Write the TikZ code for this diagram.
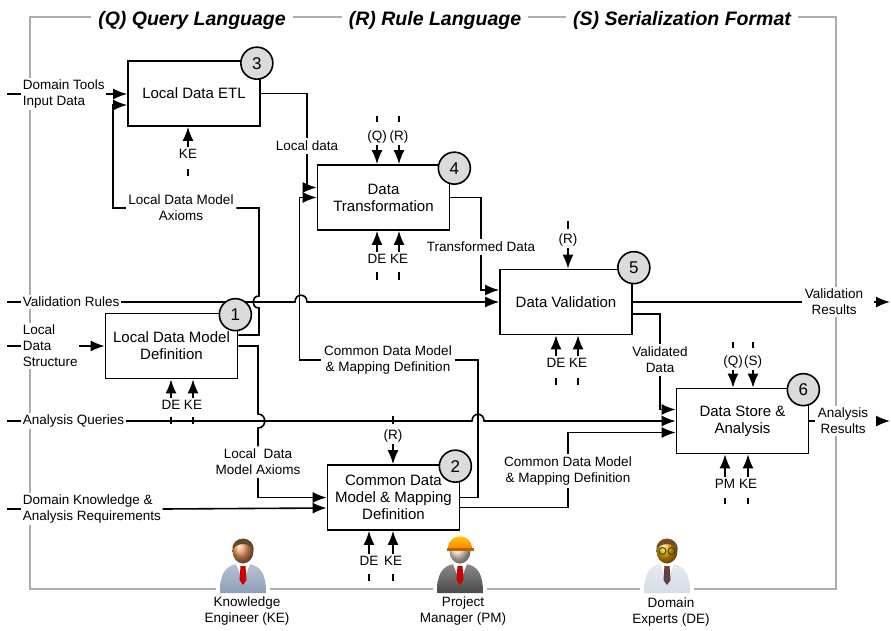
\documentclass[tikz,border=0pt]{standalone}
\usepackage{fontspec}
\setmainfont{Liberation Sans}
\usepackage{tikz}
\usetikzlibrary{arrows.meta, positioning, shapes}

\definecolor{framegray}{gray}{0.68}
\definecolor{stepgray}{gray}{0.86}
\definecolor{kesuit}{HTML}{8DA0B8}
\definecolor{pmsuit}{HTML}{4A4A4A}
\definecolor{decoat}{HTML}{D5DDE6}
\definecolor{skin}{HTML}{E8945A}

% person icon: #1 position (feet), #2 suit, #3 face, #4 hair / hat / extras
\newcommand{\drawperson}[4]{%
  \begin{scope}[shift={#1}, line width=0.6pt]
    \fill  [white] (-27,4) rectangle (27,-60);
    \shade [top color=#2!65, bottom color=#2] (-23,0) .. controls (-23,-19) and (-18,-27) .. (-6,-29)
           -- (6,-29) .. controls (18,-27) and (23,-19) .. (23,0) -- cycle;
    \fill  [white] (-7,-29) -- (7,-29) -- (0,-11) -- cycle;
    \fill  [red!80!black] (-2.5,-27) -- (2.5,-27) -- (3.5,-13) -- (0,-8) -- (-3.5,-13) -- cycle;
    \shade [ball color=#3] (0,-42) ellipse [x radius=10.5, y radius=12.5];
    #4
  \end{scope}}

\begin{document}
\begin{tikzpicture}[x=1pt, y=-1pt, line width=1.6pt,
  >={Latex[length=14pt, width=11pt]},
  activity/.style={draw, line width=1.7pt, minimum width=132pt, minimum height=65pt, inner sep=0pt,
                   align=center, font=\fontsize{15}{17}\selectfont},
  stepno/.style={draw, circle, fill=stepgray, minimum size=32pt, inner sep=0pt,
                 font=\fontsize{17}{17}\selectfont},
  lbl/.style={fill=white, inner sep=2pt, align=center, font=\fontsize{13.5}{16}\selectfont},
  inlbl/.style={lbl, anchor=west, align=left, inner xsep=1pt},
  role/.style={fill=white, inner sep=1pt, text height=9.5pt, text depth=2.5pt,
               font=\fontsize{13.5}{16}\selectfont},
  grayframe/.style={draw=framegray, line width=1.3pt},
  heading/.style={fill=white, inner xsep=7pt, font=\fontsize{19.5}{22}\selectfont\bfseries\itshape},
]

\useasboundingbox (0,0) rectangle (891,630);

\draw [grayframe] (30,17) rectangle (836,589);

\node [heading] (qlang) at (192,20) {(Q) Query Language};
\node [heading] (rlang) at (435,20) {(R) Rule Language};
\node [heading] (slang) at (682,20) {(S) Serialization Format};

% people
\drawperson{(243,593)}{kesuit}{skin}{%
  \fill [brown!55!black] (-10.5,-43) .. controls (-12,-58) and (12,-58) .. (10.5,-43)
        .. controls (7,-51) and (-7,-51) .. cycle;}
\drawperson{(460,593)}{pmsuit}{white!85!orange}{%
  \shade [top color=yellow!75!orange, bottom color=orange] (-12,-44) .. controls (-12,-61) and (12,-61) .. (12,-44) -- cycle;
  \fill  [orange!75!black] (-13.5,-45) rectangle (13.5,-42);}
\drawperson{(667,593)}{decoat}{orange!75!yellow}{%
  \fill [black!70] (-2,-27) -- (2,-27) -- (3,-13) -- (0,-9) -- (-3,-13) -- cycle;
  \fill [brown!60!black] (-10.5,-43) .. controls (-12,-58) and (12,-58) .. (10.5,-43)
        .. controls (7,-51) and (-7,-51) .. cycle;
  \draw [green!35!black, line width=0.9pt] (-4.5,-42) circle (3.5) (4.5,-42) circle (3.5);}

\node [lbl] (ke) at (247,611) {Knowledge\\Engineer (KE)};
\node [lbl] (pm) at (463,611) {Project\\Manager (PM)};
\node [lbl] (de) at (671,612) {Domain\\Experts (DE)};

% activities
\node [activity] (ldm) at (171.5,346)   {Local Data Model\\Definition};
\node [activity] (cdm) at (393.5,497.5) {Common Data\\Model \& Mapping\\Definition};
\node [activity] (etl) at (194,93.5)    {Local Data ETL};
\node [activity] (trf) at (383.5,197.5) {Data\\Transformation};
\node [activity] (val) at (566,302)     {Data Validation};
\node [activity] (dsa) at (742.5,421)   {Data Store \&\\Analysis};

% inputs from the left
\node [inlbl] (dtin) at (21,94)  {Domain Tools\\Input Data};
\node [inlbl] (vrul) at (21,302) {Validation Rules};
\node [inlbl] (lds)  at (21,346) {Local\\Data\\Structure};
\node [inlbl] (aq)   at (21,421) {Analysis Queries};
\node [inlbl] (dkar) at (21,509) {Domain Knowledge \&\\Analysis Requirements};

% flow labels
\node [lbl] (ldata) at (307,146) {Local data};
\node [lbl] (ldmax) at (181,208) {Local Data Model\\Axioms};
\node [lbl] (lmax)  at (258,462) {Local~ Data\\Model Axioms};
\node [lbl] (cmfb)  at (388,360) {Common Data Model\\\& Mapping Definition};
\node [lbl] (cmfw)  at (568,471) {Common Data Model\\\& Mapping Definition};
\node [lbl] (tdat)  at (481,247) {Transformed Data};
\node [lbl] (vdat)  at (660,360) {Validated\\Data};
\node [lbl] (vres)  at (834,302) {Validation\\Results};
\node [lbl] (ares)  at (843,421) {Analysis\\Results};

\coordinate (vout) at (890,302);
\coordinate (aout) at (890,421);

\draw (dtin.west) -- ++(-14,0);
\draw (vrul.west) -- ++(-14,0);
\draw (lds.west)  -- ++(-14,0);
\draw (aq.west)   -- ++(-14,0);
\draw (dkar.west) -- ++(-14,0);

\draw [->] (dtin.east) -- (dtin.east -| etl.west);
\draw [->] (lds.east)  -- (ldm.west);
\draw [->] (dkar.east) -- ([yshift=-10.5pt]cdm.west);
\draw [->] (vrul.east) -- (295,302) .. controls (295,293) and (307,293) .. (307,302) -- (val.west);
\draw [->] (aq.east)   -- (472,421) .. controls (472,412) and (484,412) .. (484,421) -- (dsa.west);

\draw      (etl.east) -| (ldata.north);
\draw [->] (ldata.south) |- ([yshift=10pt]trf.west);

\draw      ([yshift=11pt]ldm.east) -- (259,335) -- (259,308) .. controls (251,308) and (251,296) .. (259,296)
           -- (259,208) -- (ldmax.east);
\draw [->] (ldmax.west) -| (113,105) -- ([yshift=-11.5pt]etl.west);

\draw      (ldm.east) -- (258,346) -- (258,414) .. controls (267,414) and (267,428) .. (258,428) -- (lmax.north);
\draw [->] (lmax.south) |- (cdm.west);

\draw      (cdm.east) -- (478,497.5) |- (cmfb.east);
\draw [->] (cmfb.west) -| ([xshift=-17pt]trf.west) -- (trf.west);

\draw      ([yshift=-10pt]cdm.east) -| (cmfw.south);
\draw [->] (cmfw.north) |- ([yshift=-11.5pt]dsa.west);

\draw      (trf.east) -| (tdat.north);
\draw [->] (tdat.south) |- ([yshift=12pt]val.west);

\draw      ([yshift=-12pt]val.east) -| (vdat.north);
\draw [->] (vdat.south) |- ([yshift=11.5pt]dsa.west);

\draw      (val.east) -- (vres.west);
\draw [->] ([xshift=8pt]vres.east) -- (vout);
\draw      (dsa.east) -- (ares.west);
\draw [->] ([xshift=8pt]ares.east) -- (aout);

% controls and mechanisms
\node [role] (ke3) at (188,155) {KE};
\draw [->] (ke3.north) -- (ke3.north |- etl.south);
\draw (ke3.south) ++(0,6) -- ++(0,7);

\node [role] (de1) at (171,406) {DE};
\node [role] (ke1) at (193,406) {KE};
\draw [->] (de1.north) -- (de1.north |- ldm.south);
\draw [->] (ke1.north) -- (ke1.north |- ldm.south);
\draw (de1.south) ++(0,3) -- ++(0,7);
\draw (ke1.south) ++(0,3) -- ++(0,7);

\node [role] (q4) at (377,137) {(Q)};
\node [role] (r4) at (399,137) {(R)};
\draw [->] (q4.south) -- (q4.south |- trf.north);
\draw [->] (r4.south) -- (r4.south |- trf.north);
\draw (q4.north) ++(0,-7) -- ++(0,-6);
\draw (r4.north) ++(0,-7) -- ++(0,-6);
\node [role] (de4) at (377,260) {DE};
\node [role] (ke4) at (399,260) {KE};
\draw [->] (de4.north) -- (de4.north |- trf.south);
\draw [->] (ke4.north) -- (ke4.north |- trf.south);
\draw (de4.south) ++(0,4) -- ++(0,8);
\draw (ke4.south) ++(0,4) -- ++(0,8);

\node [role] (r2) at (393,436) {(R)};
\draw [->] (r2.south) -- (r2.south |- cdm.north);
\draw (r2.north) ++(0,-4) -- ++(0,-8);
\node [role] (de2) at (369,562) {DE};
\node [role] (ke2) at (393,562) {KE};
\draw [->] (de2.north) -- (de2.north |- cdm.south);
\draw [->] (ke2.north) -- (ke2.north |- cdm.south);
\draw (de2.south) ++(0,4) -- ++(0,7);
\draw (ke2.south) ++(0,4) -- ++(0,7);

\node [role] (r5) at (568,240) {(R)};
\draw [->] (r5.south) -- (r5.south |- val.north);
\draw (r5.north) ++(0,-3) -- ++(0,-8);
\node [role] (de5) at (556,364) {DE};
\node [role] (ke5) at (578,364) {KE};
\draw [->] (de5.north) -- (de5.north |- val.south);
\draw [->] (ke5.north) -- (ke5.north |- val.south);
\draw (de5.south) ++(0,6) -- ++(0,7);
\draw (ke5.south) ++(0,6) -- ++(0,7);

\node [role] (q6) at (733,362) {(Q)};
\node [role] (s6) at (753,362) {(S)};
\draw [->] (q6.south) -- (q6.south |- dsa.north);
\draw [->] (s6.south) -- (s6.south |- dsa.north);
\draw (q6.north) ++(0,-6) -- ++(0,-6);
\draw (s6.north) ++(0,-6) -- ++(0,-6);
\node [role] (pm6) at (725,485) {PM};
\node [role] (ke6) at (748,485) {KE};
\draw [->] (pm6.north) -- (pm6.north |- dsa.south);
\draw [->] (ke6.north) -- (ke6.north |- dsa.south);
\draw (pm6.south) ++(0,5) -- ++(0,6);
\draw (ke6.south) ++(0,5) -- ++(0,6);

% step numbers
\node [stepno] (n1) at ([shift={(-3,2)}]ldm.north east) {1};
\node [stepno] (n2) at ([shift={(-5,2)}]cdm.north east) {2};
\node [stepno] (n3) at ([shift={(-4,3)}]etl.north east) {3};
\node [stepno] (n4) at ([shift={(4,4)}]trf.north east)  {4};
\node [stepno] (n5) at ([shift={(1,-1)}]val.north east) {5};
\node [stepno] (n6) at ([shift={(-6,2)}]dsa.north east) {6};

\end{tikzpicture}
\end{document}
